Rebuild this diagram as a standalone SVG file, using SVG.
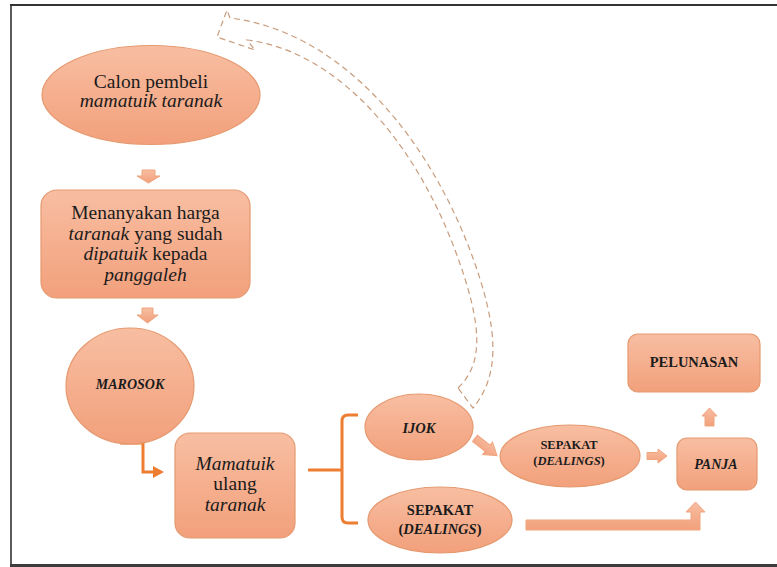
<svg xmlns="http://www.w3.org/2000/svg" width="777" height="567" viewBox="0 0 777 567">
<defs>
<linearGradient id="g" x1="0" y1="0" x2="0" y2="1">
<stop offset="0" stop-color="#F8BEA2"/>
<stop offset="1" stop-color="#F2A07B"/>
</linearGradient>
<style>
.n{fill:url(#g);stroke:#E5996F;stroke-width:1.2}
.a{fill:url(#g);stroke:#EFA57F;stroke-width:1}
.t{font-family:"Liberation Serif","Times New Roman",serif;fill:#1b1b1b;text-anchor:middle}
.big{font-size:19.5px}
.b{font-weight:bold}
.i{font-style:italic}
.o{fill:none;stroke:#ED7D31;stroke-width:3}
.d{fill:none;stroke:#C99C7C;stroke-width:1.2;stroke-dasharray:6 4}
</style>
</defs>
<rect width="777" height="567" fill="#fff"/>
<g id="frame">
<line x1="10" y1="5" x2="777" y2="5" stroke="#333" stroke-width="2"/>
<line x1="11" y1="4" x2="11" y2="566" stroke="#333" stroke-width="1.6"/>
<rect x="10" y="564" width="767" height="3" fill="#3d3d3d"/>
</g>
<g id="connectors">
<path class="a" d="M142,170H155V176H160L148.5,183L137,176H142Z"/>
<path class="a" d="M142,308H153V315H158L147.5,323L137,315H142Z"/>
<path class="o" d="M120,443H143V472H156"/>
<path d="M153,466L164,472L153,478Z" fill="#ED7D31"/>
<path class="o" d="M308,470H342M358,415H348Q342,415 342,421V517Q342,523 348,523H358"/>
<path class="a" transform="translate(486,447) rotate(38)" d="M-14,-4H2V-8L14,0L2,8V4H-14Z"/>
<path class="a" d="M647,452.5H658V449L667,456L658,463V459.5H647Z"/>
<path class="a" d="M705,426V416H702L709.5,408L717,416H714V426Z"/>
<path class="a" d="M526,520H691V512H686L695.5,502L705,512H700V530H526Z"/>
<path class="d" d="M458,388C482,365 485,330 455,250C410,130 330,50 247,40L255,50L217,37L227,10L230,18C330,30 420,120 470,250C500,330 500,375 473,408Z"/>
</g>
<g id="calon">
<ellipse class="n" cx="151" cy="95" rx="109" ry="49.5"/>
<text class="t big" x="151" y="88">Calon pembeli</text>
<text class="t big i" x="151" y="107">mamatuik taranak</text>
</g>
<g id="menanyakan">
<rect class="n" x="41" y="190" width="209" height="108" rx="16"/>
<text class="t big" x="145.5" y="219">Menanyakan harga</text>
<text class="t big" x="145.5" y="240"><tspan class="i">taranak</tspan> yang sudah</text>
<text class="t big" x="145.5" y="260"><tspan class="i">dipatuik</tspan> kepada</text>
<text class="t big i" x="145.5" y="281">panggaleh</text>
</g>
<g id="marosok">
<ellipse class="n" cx="130" cy="386" rx="64" ry="58"/>
<text class="t b i" x="130" y="389" font-size="14">MAROSOK</text>
</g>
<g id="mamatuik">
<rect class="n" x="175" y="433" width="120" height="105" rx="15"/>
<text class="t big i" x="235" y="470">Mamatuik</text>
<text class="t big" x="235" y="490">ulang</text>
<text class="t big i" x="235" y="511">taranak</text>
</g>
<g id="ijok">
<ellipse class="n" cx="419" cy="427" rx="54" ry="33"/>
<text class="t b i" x="419" y="433" font-size="14.5">IJOK</text>
</g>
<g id="sepakat2">
<ellipse class="n" cx="440" cy="520" rx="72" ry="33"/>
<text class="t b" x="440" y="515" font-size="14.5">SEPAKAT</text>
<text class="t b" x="440" y="534" font-size="14.5">(<tspan class="i">DEALINGS</tspan>)</text>
</g>
<g id="sepakat1">
<ellipse class="n" cx="570" cy="456" rx="70" ry="31"/>
<text class="t b" x="569" y="449" font-size="12.5">SEPAKAT</text>
<text class="t b" x="569" y="465" font-size="12.5">(<tspan class="i">DEALINGS</tspan>)</text>
</g>
<g id="panja">
<rect class="n" x="677" y="438" width="80" height="52" rx="10"/>
<text class="t b i" x="716" y="469" font-size="14">PANJA</text>
</g>
<g id="pelunasan">
<rect class="n" x="628" y="334" width="132" height="58" rx="10"/>
<text class="t b" x="694" y="367" font-size="14.5">PELUNASAN</text>
</g>
</svg>
